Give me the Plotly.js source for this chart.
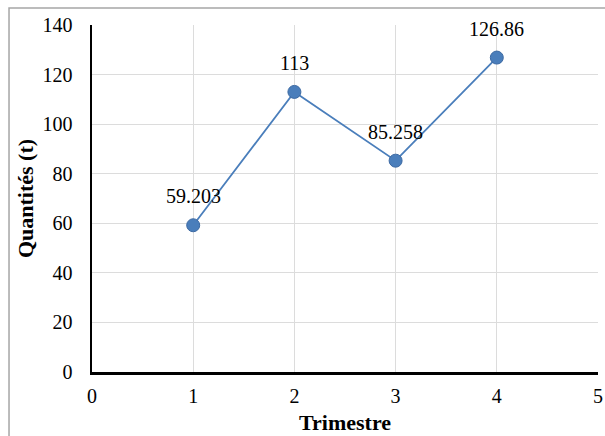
<!DOCTYPE html>
<html>
<head>
<meta charset="utf-8">
<script src="https://cdn.plot.ly/plotly-3.0.1.min.js"></script>
<style>html,body{margin:0;padding:0;background:#fff;}#chart{width:605px;height:436px;}</style>
</head>
<body>
<div id="chart"></div>
<script>
// Quantités par trimestre
const trimestres = [1, 2, 3, 4];
const quantites = [59.203, 113, 85.258, 126.86];
const etiquettes = ['59.203', '113', '85.258', '126.86'];

const serif = 'Liberation Serif, Times New Roman, serif';

const trace = {
  x: trimestres,
  y: quantites,
  mode: 'lines+markers',
  line: {color: '#4a7ebb', width: 1.8},
  marker: {color: '#4a7ebb', size: 13, line: {color: '#3d6aa3', width: 1}},
  cliponaxis: false,
  hoverinfo: 'x+y'
};

// value labels placed above each point
const annotations = trimestres.map((t, i) => ({
  x: t,
  y: quantites[i],
  xref: 'x',
  yref: 'y',
  text: etiquettes[i],
  showarrow: false,
  yshift: 29,
  font: {family: serif, size: 20, color: '#000'}
}));

const layout = {
  width: 605,
  height: 436,
  margin: {l: 92, r: 7, t: 25, b: 64},
  paper_bgcolor: '#fff',
  plot_bgcolor: '#fff',
  showlegend: false,
  font: {family: serif, color: '#000'},
  annotations: annotations,
  xaxis: {
    range: [0, 5],
    dtick: 1,
    tick0: 0,
    showgrid: true,
    gridcolor: '#dcdcdc',
    gridwidth: 1,
    zeroline: false,
    showline: true,
    linecolor: '#000',
    linewidth: 2.5,
    ticks: '',
    ticklabelstandoff: 4,
    tickfont: {family: serif, size: 20, color: '#000'},
    title: {text: '<b>Trimestre</b>', font: {family: serif, size: 22, color: '#000'}, standoff: 9}
  },
  yaxis: {
    range: [0, 140],
    dtick: 20,
    tick0: 0,
    showgrid: true,
    gridcolor: '#dcdcdc',
    gridwidth: 1,
    zeroline: false,
    showline: true,
    linecolor: '#000',
    linewidth: 2.5,
    ticks: '',
    ticklabelstandoff: 13,
    tickfont: {family: serif, size: 20, color: '#000'},
    title: {text: '<b>Quantités (t)</b>', font: {family: serif, size: 22, color: '#000'}, standoff: 3}
  },
  shapes: [{
    type: 'rect',
    xref: 'paper', yref: 'paper',
    x0: -0.164, x1: 1.1, y0: -0.3, y1: 1.049,
    line: {color: '#a6a6a6', width: 1.5},
    fillcolor: 'rgba(0,0,0,0)',
    layer: 'below'
  }]
};

Plotly.newPlot('chart', [trace], layout, {displayModeBar: false, staticPlot: true});
</script>
</body>
</html>
